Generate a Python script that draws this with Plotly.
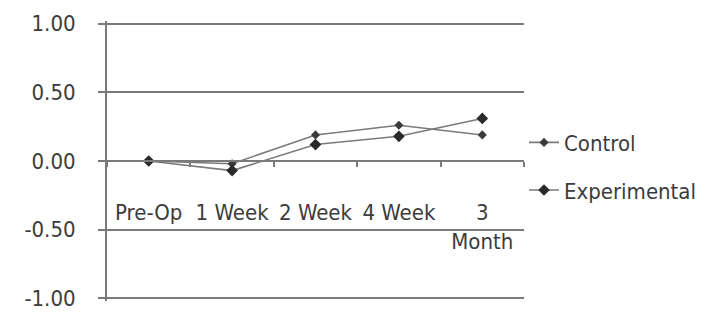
import plotly.graph_objects as go

categories = ["Pre-Op", "1 Week", "2 Week", "4 Week", "3<br>Month"]
control = [0.00, -0.02, 0.19, 0.26, 0.19]
experimental = [0.00, -0.07, 0.12, 0.18, 0.31]
y_tickvals = [1.0, 0.5, 0.0, -0.5, -1.0]
y_ticktext = ["1.00", "0.50", "0.00", "-0.50", "-1.00"]

FONT = "DejaVu Sans Condensed, Liberation Sans Narrow, sans-serif"
TXT = "#3c3c3c"
LINE = "#7a7a7a"

fig = go.Figure()
fig.add_trace(go.Scatter(
    x=categories, y=control, name="Control", mode="lines+markers",
    legendgroup="c",
    line=dict(color=LINE, width=1.6),
    marker=dict(symbol="diamond", size=7, color="#3a3a3a"),
))
fig.add_trace(go.Scatter(
    x=categories, y=experimental, name="Experimental", mode="lines+markers",
    legendgroup="e",
    line=dict(color=LINE, width=1.6),
    marker=dict(symbol="diamond", size=9, color="#2a2a2a"),
))

fig.update_layout(
    width=713, height=323,
    margin=dict(l=107, r=186, t=20, b=13),
    paper_bgcolor="white", plot_bgcolor="white",
    font=dict(family=FONT, size=22, color=TXT),
    showlegend=True,
    legend=dict(x=1.0, y=0.48, xanchor="left", yanchor="middle",
                tracegroupgap=16, font=dict(family=FONT, size=22, color=TXT),
                itemwidth=30, bgcolor="rgba(0,0,0,0)"),
    xaxis=dict(
        type="category", range=[-0.5, 4.5],
        anchor="free", position=0.5,
        showline=True, linecolor=LINE, linewidth=2,
        ticks="outside", tickson="boundaries", ticklen=5, tickcolor=LINE, tickwidth=1.5,
        showgrid=False, zeroline=False,
        ticklabelstandoff=32,
        tickfont=dict(family=FONT, size=22, color=TXT),
    ),
    yaxis=dict(
        range=[-1.02, 1.02], tickvals=y_tickvals, ticktext=y_ticktext,
        showline=True, linecolor=LINE, linewidth=2,
        ticks="outside", ticklen=7, tickcolor=LINE, tickwidth=2,
        showgrid=True, gridcolor=LINE, gridwidth=2,
        zeroline=False,
        ticklabelstandoff=18,
        tickfont=dict(family=FONT, size=22, color=TXT),
    ),
)

fig.write_html("out.html")
